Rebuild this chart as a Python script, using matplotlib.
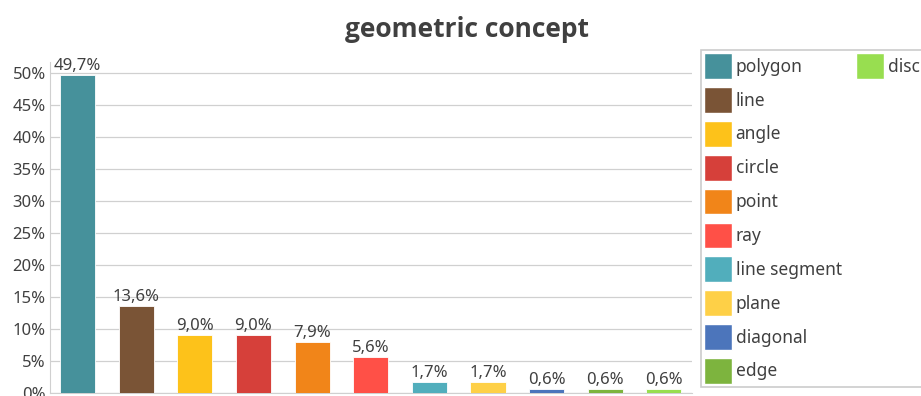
import matplotlib
matplotlib.use('Agg')
import matplotlib.pyplot as plt
from matplotlib.patches import Patch
from matplotlib.ticker import FuncFormatter

plt.rcParams['font.family'] = ['Noto Sans', 'DejaVu Sans']

# data
categories = ['polygon', 'line', 'angle', 'circle', 'point', 'ray',
              'line segment', 'plane', 'diagonal', 'edge', 'disc']
shares = [49.7, 13.6, 9.0, 9.0, 7.9, 5.6, 1.7, 1.7, 0.6, 0.6, 0.6]
colors = ['#46919B', '#7A5436', '#FDC21A', '#D6403A', '#F18519', '#FF5047',
          '#51AEBC', '#FED047', '#4C75BB', '#7DB43E', '#98DE50']
yticks = [0, 5, 10, 15, 20, 25, 30, 35, 40, 45, 50]

text_color = '#404040'
grid_color = '#D0D0D0'

fig = plt.figure(figsize=(9.21, 3.96), dpi=100)
ax = fig.add_axes([0.0543, 0.0076, 0.6971, 0.835])

x = list(range(len(categories)))
ax.bar(x, shares, width=0.6, color=colors, edgecolor='white', linewidth=0.6, zorder=3)

for xi, v in zip(x, shares):
    ax.text(xi, v + 0.2, f'{v:.1f}%'.replace('.', ','), ha='center', va='bottom',
            fontsize=12, color=text_color)

ax.set_xlim(-0.47, len(categories) - 0.52)
ax.set_ylim(0, 51.7)
ax.set_yticks(yticks)
ax.yaxis.set_major_formatter(FuncFormatter(lambda v, p: f'{v:.0f}%'))
ax.set_xticks([])
ax.tick_params(axis='y', length=0, labelsize=12, labelcolor=text_color, pad=3)
ax.grid(axis='y', color=grid_color, linewidth=0.9, zorder=0)
for side in ['top', 'right']:
    ax.spines[side].set_visible(False)
ax.spines['left'].set_color(grid_color)
ax.spines['bottom'].set_color(grid_color)

fig.suptitle('geometric concept', x=0.507, y=0.96, fontsize=19, fontweight='bold',
             family=['Open Sans', 'DejaVu Sans'], color=text_color)

# legend: 10 entries in first column, disc alone in the second
handles = [Patch(facecolor=c, edgecolor='white', label=n) for c, n in zip(colors, categories)]
blanks = [Patch(facecolor='none', edgecolor='none', label='') for _ in range(9)]
leg = fig.legend(handles=handles + blanks, ncol=2, loc='upper left',
                 bbox_to_anchor=(0.761, 0.874), frameon=True, fancybox=False,
                 fontsize=12.5, handlelength=1.6, handleheight=1.9, handletextpad=0.2,
                 labelspacing=0.47, columnspacing=0.85, borderpad=0.2, borderaxespad=0)
leg.get_frame().set_edgecolor('#BFBFBF')
leg.get_frame().set_linewidth(1.2)
for t in leg.get_texts():
    t.set_color(text_color)

plt.savefig('out.png', dpi=100)
